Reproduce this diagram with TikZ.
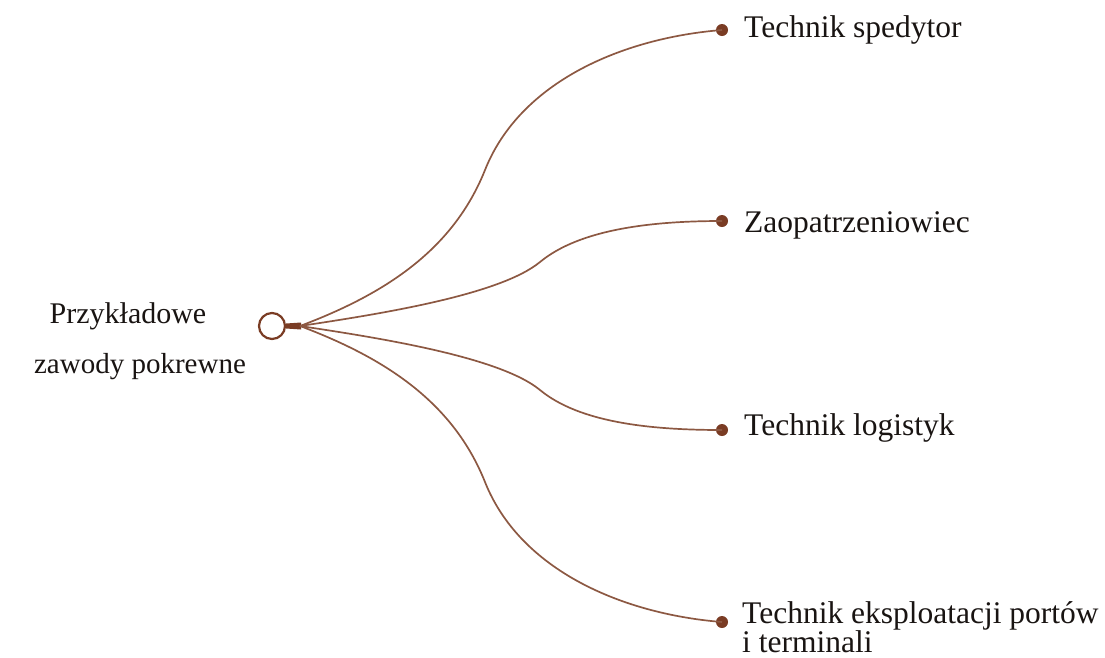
\documentclass[tikz,border=0pt]{standalone}
\usepackage{fontspec}
\setmainfont{Liberation Serif}
\definecolor{brn}{RGB}{122,60,36}
\definecolor{lnc}{RGB}{140,88,66}
\definecolor{txt}{RGB}{25,20,18}
\begin{document}
\begin{tikzpicture}[x=1pt,y=-1pt,
  conn/.style={draw=lnc,line width=1.7pt},
  enddot/.style={circle,fill=brn,inner sep=0pt,minimum size=12pt},
  lbl/.style={anchor=base west,inner sep=0pt,text=txt,font=\fontsize{31.5}{36}\selectfont},
  lbll/.style={anchor=base,inner sep=0pt,text=txt,font=\fontsize{30}{36}\selectfont}]
\useasboundingbox (0,0) rectangle (1105,657);
% hub
\node[circle,draw=brn,line width=2.2pt,fill=white,minimum size=26pt,inner sep=0pt] (root) at (272,326) {};
\coordinate (hub) at (300,326);
\fill[brn] (root.east) ++(0,-2.5) -- ++(15,-1) -- ++(0,7) -- ++(-15,-1) -- cycle;
% end dots
\node[enddot] (d1) at (722,30) {};
\node[enddot] (d2) at (722,221) {};
\node[enddot] (d3) at (722,430) {};
\node[enddot] (d4) at (722,622) {};
% midpoints
\coordinate (m1) at (485,170);
\coordinate (m2) at (540,262);
\coordinate (m3) at (540,390);
\coordinate (m4) at (485,482);
% connectors
\draw[conn] (hub) .. controls +(85,-32) and +(-32,80) .. (m1) .. controls +(35,-88) and +(-100,8) .. (d1.center);
\draw[conn] (hub) .. controls +(80,-12) and +(-40,33) .. (m2) .. controls +(40,-33) and +(-70,0) .. (d2.center);
\draw[conn] (hub) .. controls +(80,12) and +(-40,-33) .. (m3) .. controls +(40,33) and +(-70,0) .. (d3.center);
\draw[conn] (hub) .. controls +(85,32) and +(-32,-80) .. (m4) .. controls +(35,88) and +(-100,-8) .. (d4.center);
% labels
\node[lbll] (c1) at (128,323) {Przykładowe};
\node[lbll,font=\fontsize{29}{36}\selectfont] (c2) at (140,373) {zawody pokrewne};
\node[lbl] (t1) at (744,37) {Technik spedytor};
\node[lbl] (t2) at (744,232) {Zaopatrzeniowiec};
\node[lbl] (t3) at (744,435) {Technik logistyk};
\node[lbl] (t4) at (742,623) {Technik eksploatacji portów};
\node[lbl] (t4b) at (742,652) {i terminali};
\end{tikzpicture}
\end{document}
